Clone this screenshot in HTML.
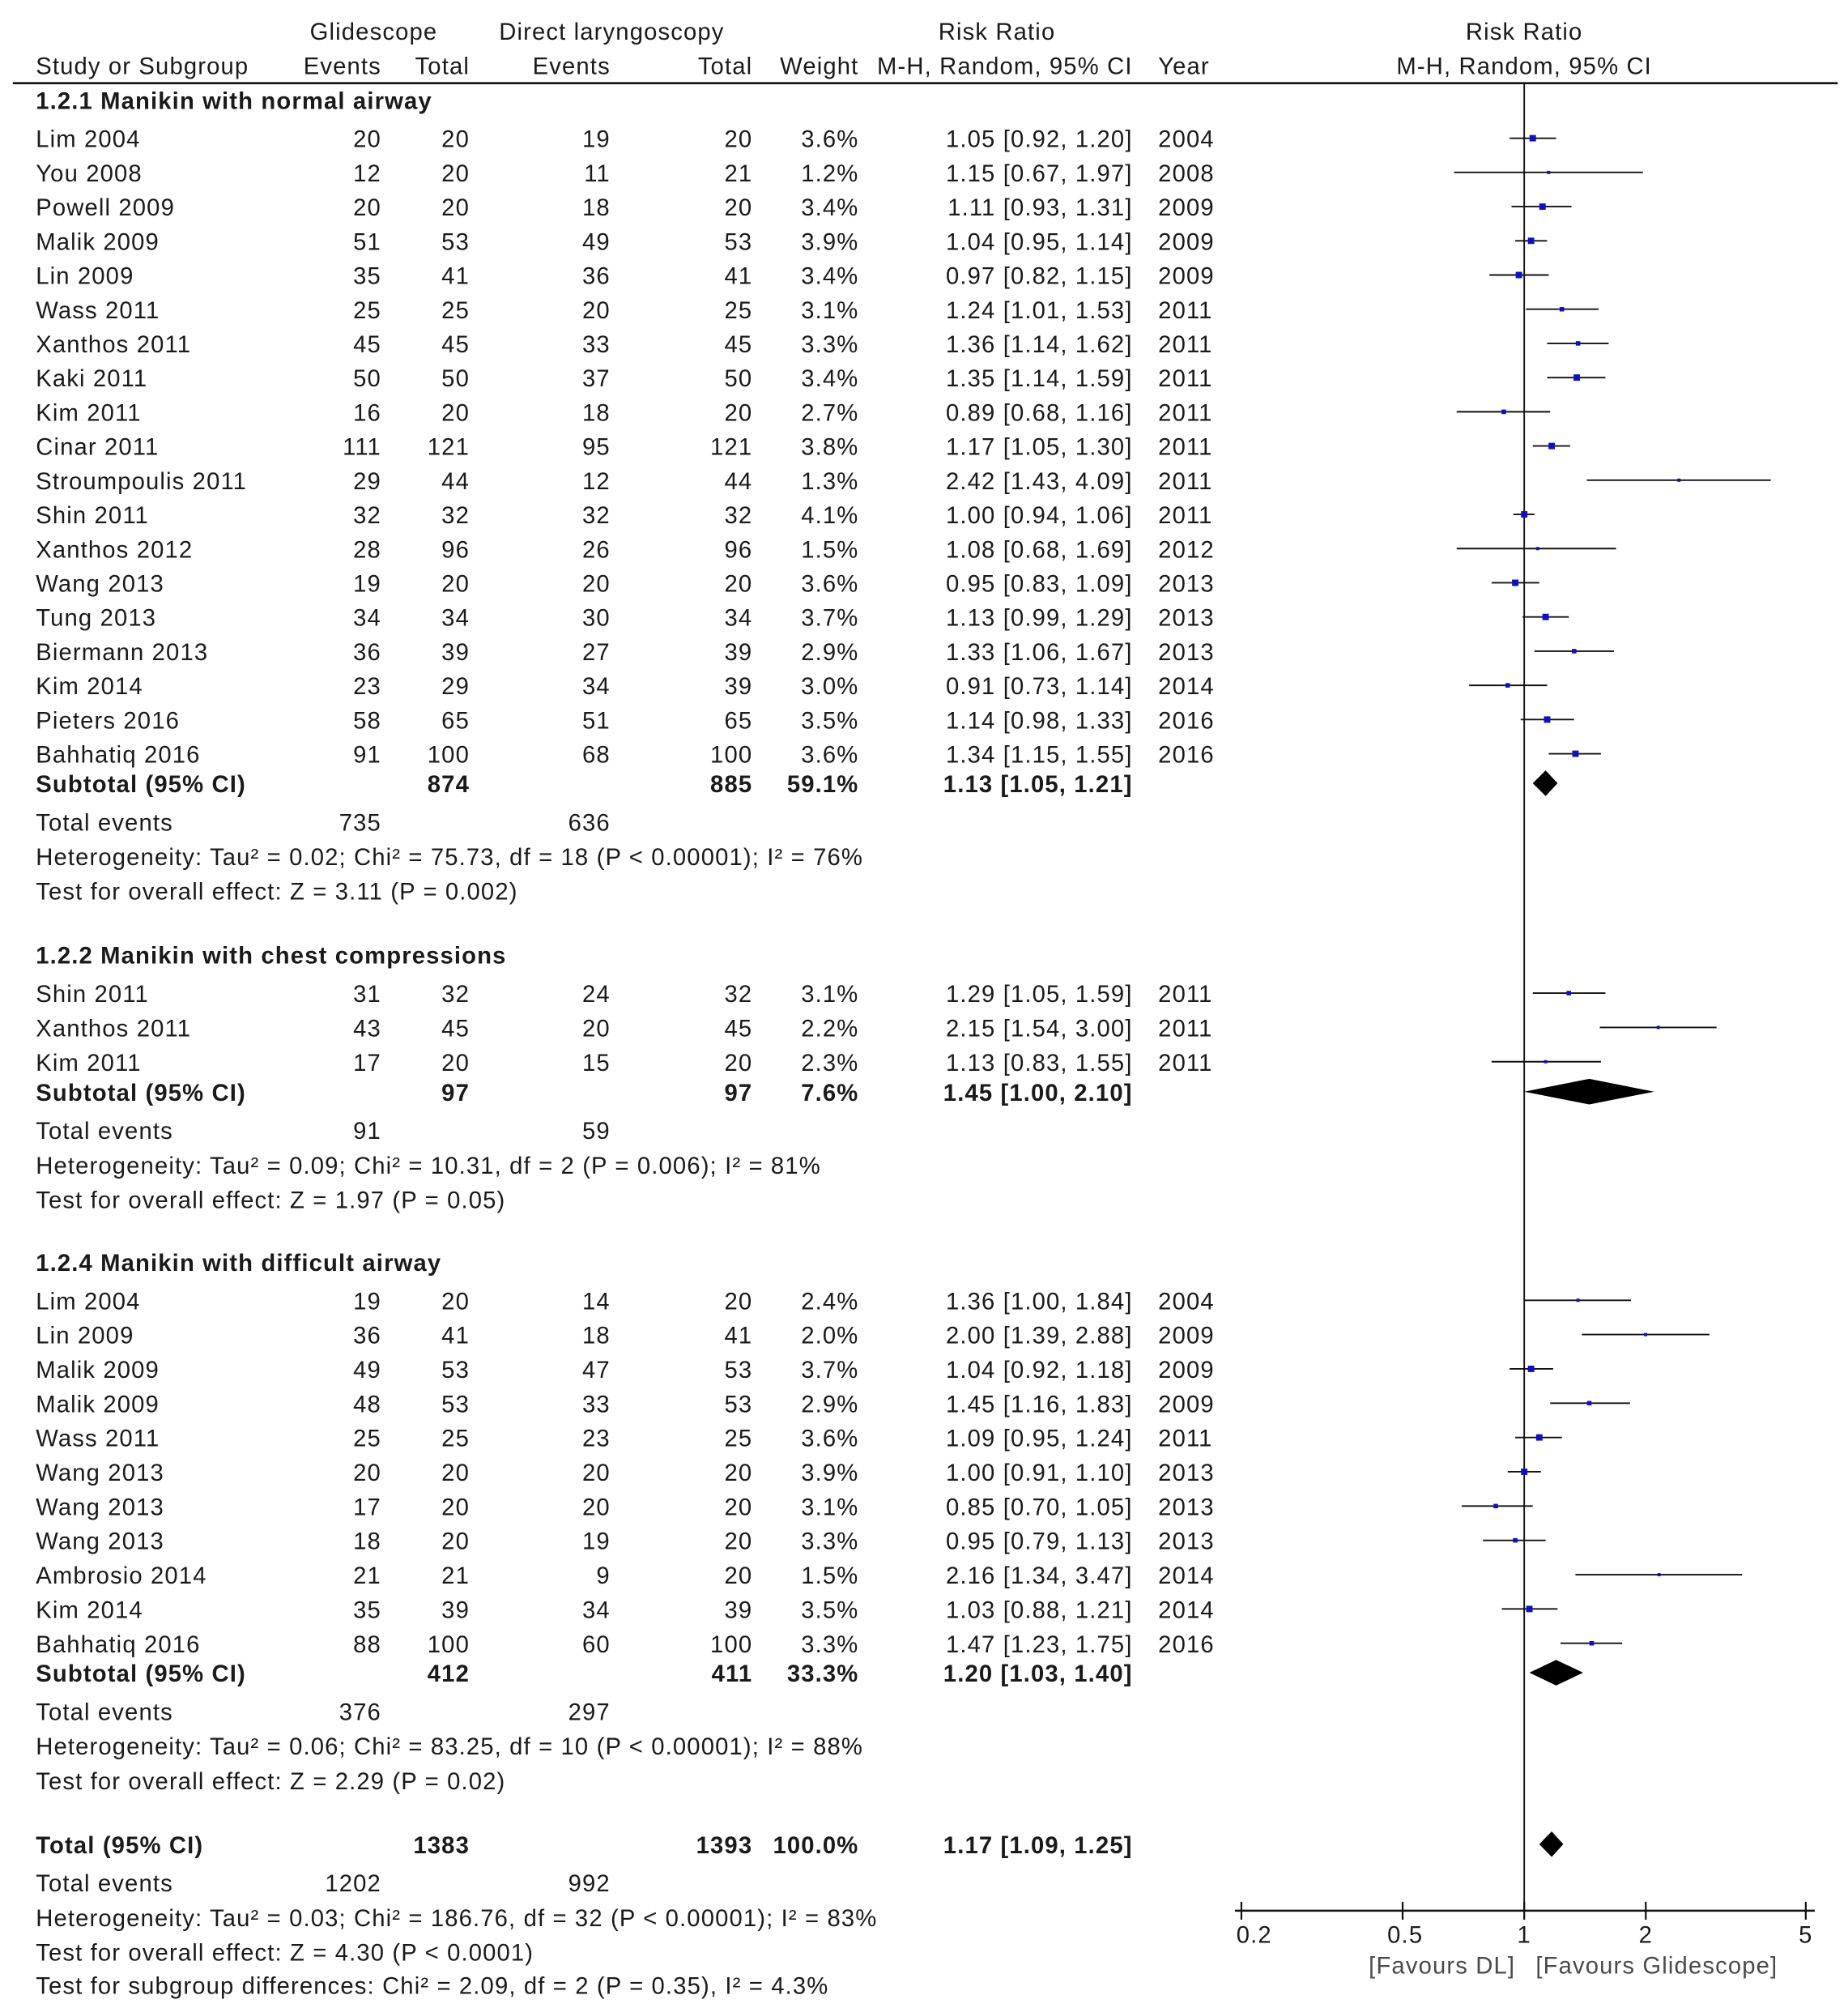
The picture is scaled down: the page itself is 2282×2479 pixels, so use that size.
<!DOCTYPE html>
<html><head><meta charset="utf-8"><style>
html,body{margin:0;padding:0;background:#fff}
svg{display:block}
text{font-family:"Liberation Sans",Arial,sans-serif;font-size:18.5px;fill:#1a1a1a;letter-spacing:0.72px}
.b{font-weight:bold}
</style></head><body>
<svg id="s" width="2282" height="2479" viewBox="0 0 1444 1569" preserveAspectRatio="none" xmlns="http://www.w3.org/2000/svg">
<text x="292" y="31" text-anchor="middle">Glidescope</text>
<text x="478" y="31" text-anchor="middle">Direct laryngoscopy</text>
<text x="779" y="31" text-anchor="middle">Risk Ratio</text>
<text x="1191" y="31" text-anchor="middle">Risk Ratio</text>
<text x="28" y="58">Study or Subgroup</text>
<text x="298" y="58" text-anchor="end">Events</text>
<text x="367" y="58" text-anchor="end">Total</text>
<text x="477" y="58" text-anchor="end">Events</text>
<text x="588" y="58" text-anchor="end">Total</text>
<text x="671" y="58" text-anchor="end">Weight</text>
<text x="885" y="58" text-anchor="end">M-H, Random, 95% CI</text>
<text x="905" y="58">Year</text>
<text x="1191" y="58" text-anchor="middle">M-H, Random, 95% CI</text>
<line x1="10" y1="65" x2="1436" y2="65" stroke="#111" stroke-width="1.6"/>
<line x1="1191" y1="65" x2="1191" y2="1493" stroke="#111" stroke-width="1.2"/>
<line x1="965" y1="1493" x2="1418" y2="1493" stroke="#111" stroke-width="1.6"/>
<g stroke="#111" stroke-width="1.4">
<line x1="970" y1="1486" x2="970" y2="1500"/><line x1="1096" y1="1486" x2="1096" y2="1500"/>
<line x1="1191" y1="1486" x2="1191" y2="1500"/><line x1="1286" y1="1486" x2="1286" y2="1500"/>
<line x1="1411" y1="1486" x2="1411" y2="1500"/></g>
<text x="980" y="1518" text-anchor="middle">0.2</text>
<text x="1098" y="1518" text-anchor="middle">0.5</text>
<text x="1191" y="1518" text-anchor="middle">1</text>
<text x="1286" y="1518" text-anchor="middle">2</text>
<text x="1411" y="1518" text-anchor="middle">5</text>
<text x="1184" y="1542" text-anchor="end" style="fill:#4a4a4a">[Favours DL]</text>
<text x="1200" y="1542" style="fill:#4a4a4a">[Favours Glidescope]</text>
</svg>
<script>
var S=document.getElementById('s'),NS='http://www.w3.org/2000/svg';
function T(x,y,s,a,b){var t=document.createElementNS(NS,'text');t.setAttribute('x',x);t.setAttribute('y',y+7);if(a)t.setAttribute('text-anchor',a);if(b)t.setAttribute('class','b');t.textContent=s;S.appendChild(t);}
function X(v){return 1191+315*Math.log10(v);}
function row(y,d){T(28,y,d[0]);T(298,y,d[1],'end');T(367,y,d[2],'end');T(477,y,d[3],'end');T(588,y,d[4],'end');T(671,y,d[5]+'%','end');
T(885,y,d[6].toFixed(2)+' ['+d[7].toFixed(2)+', '+d[8].toFixed(2)+']','end');T(905,y,d[9]);
var l=document.createElementNS(NS,'line');l.setAttribute('x1',X(d[7]));l.setAttribute('x2',X(d[8]));l.setAttribute('y1',y);l.setAttribute('y2',y);l.setAttribute('stroke','#111');l.setAttribute('stroke-width','1.2');S.appendChild(l);
var w=d[5]>=3.4?5:d[5]>=2.5?3.5:2.5;var r=document.createElementNS(NS,'rect');r.setAttribute('x',X(d[6])-w/2);r.setAttribute('y',y-w/2);r.setAttribute('width',w);r.setAttribute('height',w);r.setAttribute('fill','#1010c0');S.appendChild(r);}
function dia(y,e,l,u){var p=document.createElementNS(NS,'polygon');p.setAttribute('points',X(l)+','+y+' '+X(e)+','+(y-10)+' '+X(u)+','+y+' '+X(e)+','+(y+10));p.setAttribute('fill','#000');S.appendChild(p);}
function sub(y,lab,a,b,w,e,l,u){T(28,y,lab,null,1);T(367,y,a,'end',1);T(588,y,b,'end',1);T(671,y,w,'end',1);T(885,y,e.toFixed(2)+' ['+l.toFixed(2)+', '+u.toFixed(2)+']','end',1);dia(y,e,l,u);}
var s1=[["Lim 2004",20,20,19,20,"3.6",1.05,.92,1.20,2004],["You 2008",12,20,11,21,"1.2",1.15,.67,1.97,2008],["Powell 2009",20,20,18,20,"3.4",1.11,.93,1.31,2009],["Malik 2009",51,53,49,53,"3.9",1.04,.95,1.14,2009],["Lin 2009",35,41,36,41,"3.4",.97,.82,1.15,2009],["Wass 2011",25,25,20,25,"3.1",1.24,1.01,1.53,2011],["Xanthos 2011",45,45,33,45,"3.3",1.36,1.14,1.62,2011],["Kaki 2011",50,50,37,50,"3.4",1.35,1.14,1.59,2011],["Kim 2011",16,20,18,20,"2.7",.89,.68,1.16,2011],["Cinar 2011",111,121,95,121,"3.8",1.17,1.05,1.30,2011],["Stroumpoulis 2011",29,44,12,44,"1.3",2.42,1.43,4.09,2011],["Shin 2011",32,32,32,32,"4.1",1.00,.94,1.06,2011],["Xanthos 2012",28,96,26,96,"1.5",1.08,.68,1.69,2012],["Wang 2013",19,20,20,20,"3.6",.95,.83,1.09,2013],["Tung 2013",34,34,30,34,"3.7",1.13,.99,1.29,2013],["Biermann 2013",36,39,27,39,"2.9",1.33,1.06,1.67,2013],["Kim 2014",23,29,34,39,"3.0",.91,.73,1.14,2014],["Pieters 2016",58,65,51,65,"3.5",1.14,.98,1.33,2016],["Bahhatiq 2016",91,100,68,100,"3.6",1.34,1.15,1.55,2016]];
var s2=[["Shin 2011",31,32,24,32,"3.1",1.29,1.05,1.59,2011],["Xanthos 2011",43,45,20,45,"2.2",2.15,1.54,3.00,2011],["Kim 2011",17,20,15,20,"2.3",1.13,.83,1.55,2011]];
var s3=[["Lim 2004",19,20,14,20,"2.4",1.36,1.00,1.84,2004],["Lin 2009",36,41,18,41,"2.0",2.00,1.39,2.88,2009],["Malik 2009",49,53,47,53,"3.7",1.04,.92,1.18,2009],["Malik 2009",48,53,33,53,"2.9",1.45,1.16,1.83,2009],["Wass 2011",25,25,23,25,"3.6",1.09,.95,1.24,2011],["Wang 2013",20,20,20,20,"3.9",1.00,.91,1.10,2013],["Wang 2013",17,20,20,20,"3.1",.85,.70,1.05,2013],["Wang 2013",18,20,19,20,"3.3",.95,.79,1.13,2013],["Ambrosio 2014",21,21,9,20,"1.5",2.16,1.34,3.47,2014],["Kim 2014",35,39,34,39,"3.5",1.03,.88,1.21,2014],["Bahhatiq 2016",88,100,60,100,"3.3",1.47,1.23,1.75,2016]];
T(28,78,"1.2.1 Manikin with normal airway",null,1);
s1.forEach(function(d,i){row(108+i*26.72,d);});
sub(612,"Subtotal (95% CI)","874","885","59.1%",1.13,1.05,1.21);
T(28,642,"Total events");T(298,642,"735",'end');T(477,642,"636",'end');
T(28,669,"Heterogeneity: Tau\u00b2 = 0.02; Chi\u00b2 = 75.73, df = 18 (P < 0.00001); I\u00b2 = 76%");
T(28,696,"Test for overall effect: Z = 3.11 (P = 0.002)");
T(28,746,"1.2.2 Manikin with chest compressions",null,1);
s2.forEach(function(d,i){row(776+i*26.8,d);});
sub(853,"Subtotal (95% CI)","97","97","7.6%",1.45,1.00,2.10);
T(28,883,"Total events");T(298,883,"91",'end');T(477,883,"59",'end');
T(28,910,"Heterogeneity: Tau\u00b2 = 0.09; Chi\u00b2 = 10.31, df = 2 (P = 0.006); I\u00b2 = 81%");
T(28,937,"Test for overall effect: Z = 1.97 (P = 0.05)");
T(28,986,"1.2.4 Manikin with difficult airway",null,1);
s3.forEach(function(d,i){row(1016+i*26.8,d);});
sub(1307,"Subtotal (95% CI)","412","411","33.3%",1.20,1.03,1.40);
T(28,1337,"Total events");T(298,1337,"376",'end');T(477,1337,"297",'end');
T(28,1364,"Heterogeneity: Tau\u00b2 = 0.06; Chi\u00b2 = 83.25, df = 10 (P < 0.00001); I\u00b2 = 88%");
T(28,1391,"Test for overall effect: Z = 2.29 (P = 0.02)");
sub(1441,"Total (95% CI)","1383","1393","100.0%",1.17,1.09,1.25);
T(28,1471,"Total events");T(298,1471,"1202",'end');T(477,1471,"992",'end');
T(28,1498,"Heterogeneity: Tau\u00b2 = 0.03; Chi\u00b2 = 186.76, df = 32 (P < 0.00001); I\u00b2 = 83%");
T(28,1525,"Test for overall effect: Z = 4.30 (P < 0.0001)");
T(28,1551,"Test for subgroup differences: Chi\u00b2 = 2.09, df = 2 (P = 0.35), I\u00b2 = 4.3%");
</script>
</body></html>
